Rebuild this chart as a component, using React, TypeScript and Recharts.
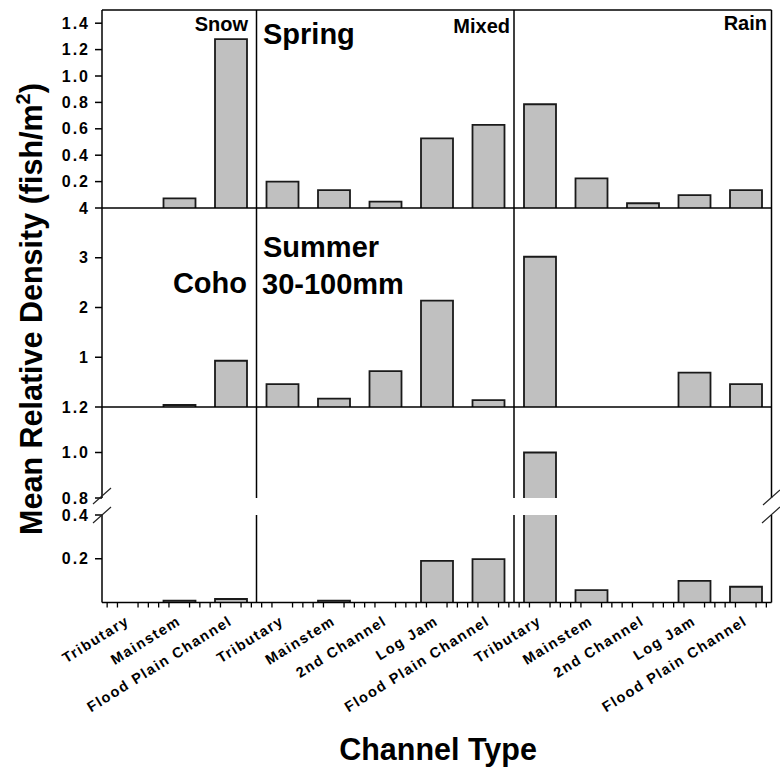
import React from 'react';
import { BarChart, Bar, XAxis, YAxis, ReferenceLine } from 'recharts';

// channel types sampled in each climate zone
const snowChannels = ['Tributary', 'Mainstem', 'Flood Plain Channel'];
const mixedChannels = ['Tributary', 'Mainstem', '2nd Channel', 'Log Jam', 'Flood Plain Channel'];
const rainChannels = ['Tributary', 'Mainstem', '2nd Channel', 'Log Jam', 'Flood Plain Channel'];

// mean relative density of coho 30-100mm (fish/m2)
const springSnow = [0, 0.073, 1.28];
const springMixed = [0.2, 0.136, 0.048, 0.528, 0.63];
const springRain = [0.786, 0.225, 0.036, 0.098, 0.136];

const summerSnow = [0, 0.04, 0.93];
const summerMixed = [0.46, 0.17, 0.72, 2.14, 0.14];
const summerRain = [3.02, 0, 0, 0.69, 0.46];

const fallSnow = [0, 0.008, 0.016];
const fallMixed = [0, 0.008, 0, 0.19, 0.198];
const fallRain = [1.0, 0.057, 0, 0.099, 0.072];

const springTicks = [0.2, 0.4, 0.6, 0.8, 1.0, 1.2, 1.4];
const summerTicks = [1, 2, 3, 4];
const fallUpperTicks = [0.8, 1.0, 1.2];
const fallLowerTicks = [0.2, 0.4];

// broken axis for the bottom row
const fallBreakLow = 0.4;
const fallBreakHigh = 0.8;

const FONT = '"Liberation Sans", Arial, sans-serif';
const W = 780;
const H = 771;
const PLOT_L = 102;
const PLOT_R = 771.5;
const BAND = (PLOT_R - PLOT_L) / 13;
const PAD = 12;
const AXIS = { stroke: '#000', strokeWidth: 1.5 };

const CATS = [
  ...snowChannels.map((name, i) => ({ key: `snow-${i}`, name })),
  ...mixedChannels.map((name, i) => ({ key: `mixed-${i}`, name })),
  ...rainChannels.map((name, i) => ({ key: `rain-${i}`, name })),
];
const NAMES: Record<string, string> = Object.fromEntries(CATS.map((c) => [c.key, c.name]));

const rowData = (snow: number[], mixed: number[], rain: number[], keep = (v: number) => true) => {
  const vals = [...snow, ...mixed, ...rain];
  return CATS.map((c, i) => ({ key: c.key, value: keep(vals[i]) ? vals[i] : null }));
};

// grey bar with no stroke on the base; bars running past the top of the
// plot (axis break) are cut flat with no top stroke either
function BarShape(props: any) {
  const { x, y, width, height, background } = props;
  if (!height || height <= 0) return null;
  let top = y;
  let capped = false;
  if (background && y < background.y) {
    top = background.y;
    capped = true;
  }
  const bottom = y + height;
  const d = capped
    ? `M${x},${bottom}V${top}M${x + width},${top}V${bottom}`
    : `M${x},${bottom}V${top}H${x + width}V${bottom}`;
  return (
    <g>
      <rect x={x} y={top} width={width} height={bottom - top} fill="#c0c0c0" />
      <path d={d} fill="none" stroke="#1a1a1a" strokeWidth={1.8} />
    </g>
  );
}

function ValTick(props: any) {
  const { x, y, payload, fmt } = props;
  return (
    <text x={x} y={y} dy={5.5} textAnchor="end" fontFamily={FONT} fontSize={16} fontWeight="bold" letterSpacing={2} fill="#000">
      {fmt(payload.value)}
    </text>
  );
}

function CatTick(props: any) {
  const { x, y, payload } = props;
  const step = BAND / 5;
  const tx = x + 2.5;
  const ty = y + 21;
  return (
    <g>
      {[-2, -1, 1, 2].map((k) => (
        <line key={k} x1={x + k * step} x2={x + k * step} y1={y} y2={y + 5} stroke="#000" strokeWidth={1.3} />
      ))}
      <text
        x={tx}
        y={ty}
        transform={`rotate(-32 ${tx} ${ty})`}
        textAnchor="end"
        fontFamily={FONT}
        fontSize={14.5}
        fontWeight="bold"
        letterSpacing={1.5}
        fill="#000"
      >
        {NAMES[payload.value]}
      </text>
    </g>
  );
}

type RowProps = {
  top: number;
  plotH: number;
  domain: [number, number];
  ticks: number[];
  data: { key: string; value: number | null }[];
  fmt: (v: number) => string;
  xAxis: 'labels' | 'line' | 'none';
  topLine?: boolean;
};

function PanelRow({ top, plotH, domain, ticks, data, fmt, xAxis, topLine }: RowProps) {
  const xH = xAxis === 'labels' ? 160 : xAxis === 'line' ? 1 : 0;
  const padBottom = xAxis === 'none' ? PAD : 0;
  return (
    <div style={{ position: 'absolute', left: 0, top: top - PAD }}>
      <BarChart
        width={W}
        height={PAD + plotH + xH + padBottom}
        data={data}
        margin={{ top: PAD, right: W - PLOT_R, bottom: padBottom, left: 0 }}
      >
        <XAxis
          dataKey="key"
          hide={xAxis === 'none'}
          height={xH || 1}
          interval={0}
          tickSize={0}
          tickMargin={0}
          tickLine={false}
          axisLine={AXIS}
          tick={xAxis === 'labels' ? (p: any) => <CatTick {...p} /> : false}
        />
        <YAxis
          type="number"
          width={PLOT_L}
          domain={domain}
          ticks={ticks}
          allowDataOverflow
          interval={0}
          axisLine={AXIS}
          tickLine={AXIS}
          tickSize={7}
          tickMargin={5}
          tick={(p: any) => <ValTick {...p} fmt={fmt} />}
        />
        <ReferenceLine x="mixed-0" position="start" stroke="#000" strokeWidth={1.5} />
        <ReferenceLine x="rain-0" position="start" stroke="#000" strokeWidth={1.5} />
        <ReferenceLine x="rain-4" position="end" stroke="#000" strokeWidth={1.5} />
        {topLine && <ReferenceLine y={domain[1]} stroke="#000" strokeWidth={1.5} />}
        <Bar dataKey="value" barSize={32} shape={(p: any) => <BarShape {...p} />} isAnimationActive={false} />
      </BarChart>
    </div>
  );
}

// column dividers carried through the axis break
function GapDividers({ top, h }: { top: number; h: number }) {
  const data = CATS.map((c) => ({ key: c.key, value: null }));
  return (
    <div style={{ position: 'absolute', left: 0, top }}>
      <BarChart width={W} height={h} data={data} margin={{ top: 0, right: W - PLOT_R, bottom: 0, left: PLOT_L }}>
        <XAxis dataKey="key" hide />
        <YAxis hide domain={[0, 1]} />
        <ReferenceLine x="mixed-0" position="start" stroke="#000" strokeWidth={1.5} />
        <ReferenceLine x="rain-0" position="start" stroke="#000" strokeWidth={1.5} />
        <Bar dataKey="value" isAnimationActive={false} />
      </BarChart>
    </div>
  );
}

const fixed1 = (v: number) => v.toFixed(1);
const plain = (v: number) => String(v);

export default function App() {
  return (
    <div style={{ position: 'absolute', left: 0, top: 0, width: W, height: H, background: '#fff', overflow: 'hidden' }}>
      <PanelRow
        top={10}
        plotH={198}
        domain={[0, 1.5]}
        ticks={springTicks}
        data={rowData(springSnow, springMixed, springRain)}
        fmt={fixed1}
        xAxis="line"
        topLine
      />
      <PanelRow
        top={208}
        plotH={199}
        domain={[0, 4]}
        ticks={summerTicks}
        data={rowData(summerSnow, summerMixed, summerRain)}
        fmt={plain}
        xAxis="line"
      />
      <PanelRow
        top={407}
        plotH={91}
        domain={[fallBreakHigh, 1.2]}
        ticks={fallUpperTicks}
        data={rowData(fallSnow, fallMixed, fallRain, (v) => v >= fallBreakHigh)}
        fmt={fixed1}
        xAxis="none"
      />
      <GapDividers top={498} h={17} />
      <PanelRow
        top={515}
        plotH={87.5}
        domain={[0, fallBreakLow]}
        ticks={fallLowerTicks}
        data={rowData(fallSnow, fallMixed, fallRain)}
        fmt={fixed1}
        xAxis="labels"
      />
      <svg
        width={W}
        height={H}
        style={{ position: 'absolute', left: 0, top: 0, pointerEvents: 'none' }}
        fontFamily={FONT}
        fontWeight="bold"
        fill="#000"
      >
        <text x={248} y={30.5} textAnchor="end" fontSize={20}>Snow</text>
        <text x={510} y={33} textAnchor="end" fontSize={20}>Mixed</text>
        <text x={767} y={30} textAnchor="end" fontSize={20}>Rain</text>
        <text x={263} y={44} fontSize={29}>Spring</text>
        <text x={263} y={257} fontSize={29}>Summer</text>
        <text x={247} y={293} textAnchor="end" fontSize={29}>Coho</text>
        <text x={262} y={294} fontSize={29}>30-100mm</text>
        <text transform="translate(42 309) rotate(-90)" textAnchor="middle" fontSize={30.5}>
          Mean Relative Density (fish/m<tspan dy={-12} fontSize={20}>2</tspan>
          <tspan dy={12}>)</tspan>
        </text>
        <text x={438} y={760} textAnchor="middle" fontSize={30.5}>Channel Type</text>
        <g stroke="#222" strokeWidth={1.2}>
          <line x1={93} y1={504} x2={111} y2={488} />
          <line x1={93} y1={523} x2={111} y2={507} />
          <line x1={763} y1={505} x2={780} y2={490} />
          <line x1={762} y1={523} x2={780} y2={507} />
        </g>
      </svg>
    </div>
  );
}
